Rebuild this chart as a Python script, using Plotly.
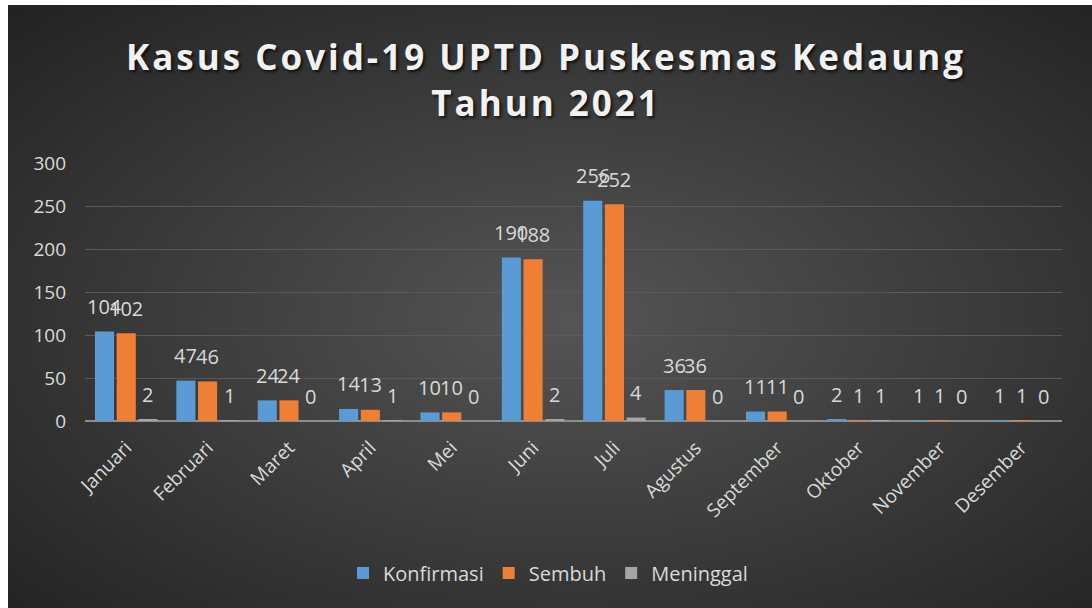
import base64
import plotly.graph_objects as go

bulan = ["Januari", "Februari", "Maret", "April", "Mei", "Juni", "Juli",
         "Agustus", "September", "Oktober", "November", "Desember"]
konfirmasi = [104, 47, 24, 14, 10, 190, 256, 36, 11, 2, 1, 1]
sembuh = [102, 46, 24, 13, 10, 188, 252, 36, 11, 1, 1, 1]
meninggal = [2, 1, 0, 1, 0, 2, 4, 0, 0, 1, 0, 0]
y_ticks = [0, 50, 100, 150, 200, 250, 300]

W, H = 1092, 608
ML, MR, MT, MB = 85, 30, 163, 187
PW, PH = W - ML - MR, H - MT - MB
BARGAP = 0.2

svg = ('<svg xmlns="http://www.w3.org/2000/svg" width="1084" height="603">'
       '<defs><radialGradient id="g" cx="52%" cy="52%" r="72%">'
       '<stop offset="0" stop-color="#555555"/>'
       '<stop offset="1" stop-color="#232323"/>'
       '</radialGradient></defs>'
       '<rect width="100%" height="100%" fill="url(#g)"/></svg>')
bg_src = "data:image/svg+xml;base64," + base64.b64encode(svg.encode()).decode()

FONT = "Open Sans"
LBL = "#d9d9d9"

fig = go.Figure()
series = [("Konfirmasi", konfirmasi, "#5b9bd5"),
          ("Sembuh", sembuh, "#ef7f34"),
          ("Meninggal", meninggal, "#a5a5a5")]
slot = PW / len(bulan) * (1 - BARGAP) / len(series)
annotations = []
for k, (name, vals, col) in enumerate(series):
    fig.add_trace(go.Bar(
        name=name, x=bulan, y=vals, marker=dict(color=col, line=dict(width=0)),
    ))
    for m, v in zip(bulan, vals):
        annotations.append(dict(
            x=m, y=v, xref="x", yref="y", text=str(v), showarrow=False,
            xshift=(k - (len(series) - 1) / 2) * slot, yshift=25,
            yanchor="middle", font=dict(family=FONT, size=20, color=LBL),
        ))

fig.update_layout(
    width=W, height=H,
    margin=dict(l=ML, r=MR, t=MT, b=MB),
    paper_bgcolor="white",
    plot_bgcolor="rgba(0,0,0,0)",
    barmode="group", bargap=BARGAP, bargroupgap=0.12,
    title=dict(
        text="Kasus Covid-19 UPTD Puskesmas Kedaung<br>Tahun 2021",
        x=0.5, xanchor="center", y=1 - 70 / H, yanchor="middle",
        font=dict(family=FONT, size=35, color="#f2f2f2", weight="bold",
                  shadow="2px 2px 3px rgba(0,0,0,0.7)"),
    ),
    xaxis=dict(
        tickangle=-45, tickfont=dict(family=FONT, size=19, color=LBL),
        showgrid=False, showline=False, ticks="", ticklabelstandoff=11,
    ),
    yaxis=dict(
        range=[0, 300], tickvals=y_ticks,
        tickfont=dict(family=FONT, size=19, color=LBL),
        showgrid=True, gridcolor="#595959", gridwidth=1,
        zeroline=True, zerolinecolor="#8c8c8c", zerolinewidth=2,
        ticklabelstandoff=18,
    ),
    legend=dict(
        orientation="h", x=0.5 + (548 - (ML + PW / 2)) / PW, xanchor="center",
        y=(421 - 573) / PH, yanchor="middle",
        font=dict(family=FONT, size=20, color=LBL),
        bgcolor="rgba(0,0,0,0)", itemwidth=30,
    ),
    annotations=annotations,
    images=[dict(
        source=bg_src, xref="paper", yref="paper",
        x=(8 - ML) / PW, y=(H - MB - 5) / PH,
        sizex=(W - 8) / PW, sizey=(H - 5) / PH,
        xanchor="left", yanchor="top", sizing="stretch", layer="below",
    )],
    showlegend=True,
)

post = """
document.body.style.margin = '0';
document.body.style.overflow = 'hidden';
document.querySelectorAll('.gtitle').forEach(function(e){
  e.setAttribute('letter-spacing', '3px');
});
"""
fig.write_html("out.html", post_script=post, config={"displayModeBar": False})
